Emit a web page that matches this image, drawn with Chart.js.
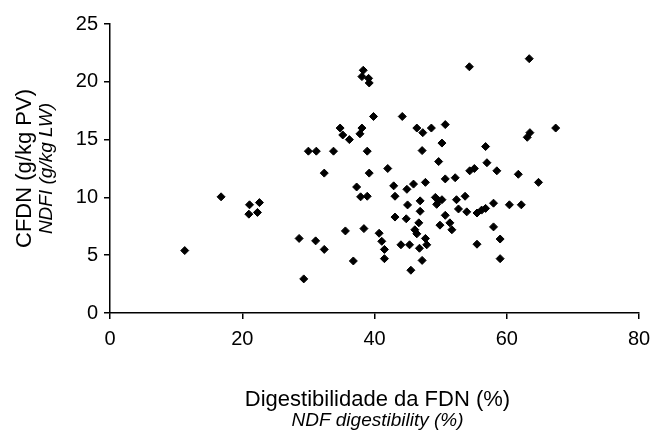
<!DOCTYPE html>
<html>
<head>
<meta charset="utf-8">
<script src="https://cdn.jsdelivr.net/npm/chart.js@4/dist/chart.umd.min.js"></script>
<style>
  body { margin: 0; background: #fff; }
  canvas { display: block; }
</style>
</head>
<body>
<canvas id="myChart" width="650" height="437"></canvas>
<script>
// NDF digestibility (%) for each observation
var digestibility = [
    11.3, 16.8, 21.1, 22.6, 21.0, 22.3, 28.6, 29.3, 31.1, 32.4,
    30.0, 31.2, 33.8, 32.4, 34.8, 35.2, 36.2, 35.6, 36.8, 37.3,
    37.9, 38.9, 38.4, 38.1, 37.8, 38.3, 38.1, 39.1, 39.2, 39.85,
    38.9, 39.2, 40.7, 41.1, 41.5, 41.5, 42.0, 42.9, 43.1, 43.1,
    44.0, 44.2, 44.9, 45.0, 44.8, 45.3, 45.5, 45.9, 46.4, 46.9,
    46.9, 46.7, 46.1, 46.4, 46.8, 47.3, 47.2, 47.7, 47.7, 47.9,
    47.2, 48.6, 49.7, 49.2, 49.7, 50.2, 49.4, 49.9, 50.7, 50.2,
    50.7, 50.7, 51.4, 51.7, 52.2, 52.4, 53.7, 52.7, 53.95, 54.35,
    54.4, 55.1, 55.5, 56.2, 56.8, 55.5, 56.8, 57.0, 58.5, 58.0,
    58.0, 59.0, 59.0, 60.4, 61.75, 62.2, 63.4, 63.5, 63.1, 64.8,
    67.4
];
// NDF intake (g/kg LW), same order
var ndfIntake = [
    5.4, 10.05, 9.36, 9.55, 8.55, 8.7, 6.45, 2.95, 6.24, 5.5,
    14.0, 14.0, 14.0, 12.1, 16.0, 15.4, 15.0, 7.1, 4.5, 10.9,
    10.05, 10.1, 7.3, 16.0, 15.5, 21.0, 20.45, 20.3, 19.9, 17.0,
    14.0, 12.1, 6.9, 6.2, 5.5, 4.7, 12.5, 11.0, 10.1, 8.3,
    5.9, 17.0, 10.7, 9.35, 8.15, 5.9, 3.7, 11.15, 16.0, 9.7,
    8.8, 7.8, 7.2, 6.85, 5.6, 15.6, 14.05, 11.3, 6.45, 5.9,
    4.55, 16.0, 13.1, 10.0, 9.7, 9.8, 9.4, 7.6, 16.3, 14.7,
    11.6, 8.45, 7.8, 7.2, 11.7, 9.8, 10.1, 9.0, 8.75, 21.3,
    12.3, 12.5, 8.65, 8.9, 9.05, 5.95, 14.4, 13.0, 12.3, 9.5,
    7.45, 6.4, 4.7, 9.36, 12.0, 9.36, 22.0, 15.6, 15.2, 11.3,
    16.0
];
var xTicks = [0, 20, 40, 60, 80];
var yTicks = [0, 5, 10, 15, 20, 25];

var fontFamily = "'Liberation Sans', Arial, sans-serif";

var points = digestibility.map(function(x, i) {
    return { x: x, y: ndfIntake[i] };
});

// draws the two-line axis titles (regular + italic english line)
var axisTitles = {
    id: 'axisTitles',
    afterDraw: function(chart) {
        var ctx = chart.ctx;
        var area = chart.chartArea;
        var cx = (area.left + area.right) / 2;
        var cy = (area.top + area.bottom) / 2;
        ctx.save();
        ctx.fillStyle = '#000';
        ctx.textAlign = 'center';
        ctx.textBaseline = 'middle';

        ctx.font = '22px ' + fontFamily;
        ctx.fillText('Digestibilidade da FDN (%)', cx + 3, 400);
        ctx.font = 'italic 19px ' + fontFamily;
        ctx.fillText('NDF digestibility (%)', cx + 3, 421);

        ctx.translate(25, cy);
        ctx.rotate(-Math.PI / 2);
        ctx.font = '22px ' + fontFamily;
        ctx.fillText('CFDN (g/kg PV)', 0, 0);
        ctx.font = 'italic 19px ' + fontFamily;
        ctx.fillText('NDFI (g/kg LW)', 0, 22);
        ctx.restore();
    }
};

var axisGrid = {
    display: true,
    drawOnChartArea: false,
    drawTicks: true,
    tickLength: 6,
    color: '#000',
    lineWidth: 1.5
};

var ctx = document.getElementById('myChart').getContext('2d');
var chart = new Chart(ctx, {
    type: 'scatter',
    data: {
        datasets: [{
            label: 'NDFI',
            data: points,
            pointStyle: 'rectRot',
            pointRadius: 4,
            pointBackgroundColor: '#000',
            pointBorderColor: '#000',
            pointBorderWidth: 1
        }]
    },
    options: {
        responsive: false,
        animation: false,
        layout: { padding: { left: 0, right: 11, top: 24, bottom: 0 } },
        plugins: {
            legend: { display: false },
            tooltip: { enabled: false }
        },
        scales: {
            x: {
                type: 'linear',
                min: xTicks[0],
                max: xTicks[xTicks.length - 1],
                afterBuildTicks: function(scale) {
                    scale.ticks = xTicks.map(function(v) { return { value: v }; });
                },
                afterFit: function(scale) {
                    scale.height = 124;
                    // keep the plot right edge where the reference has it
                    scale.paddingLeft = 0;
                    scale.paddingRight = 0;
                },
                border: { display: true, color: '#000', width: 1.5 },
                grid: axisGrid,
                ticks: {
                    color: '#000',
                    padding: 8,
                    maxRotation: 0,
                    font: { family: fontFamily, size: 20 }
                }
            },
            y: {
                type: 'linear',
                min: yTicks[0],
                max: yTicks[yTicks.length - 1],
                afterBuildTicks: function(scale) {
                    scale.ticks = yTicks.map(function(v) { return { value: v }; });
                },
                afterFit: function(scale) {
                    scale.width = 110;
                    scale.paddingTop = 0;
                    scale.paddingBottom = 0;
                },
                border: { display: true, color: '#000', width: 1.5 },
                grid: axisGrid,
                ticks: {
                    color: '#000',
                    padding: 6,
                    font: { family: fontFamily, size: 20 }
                }
            }
        }
    },
    plugins: [axisTitles]
});
</script>
</body>
</html>
